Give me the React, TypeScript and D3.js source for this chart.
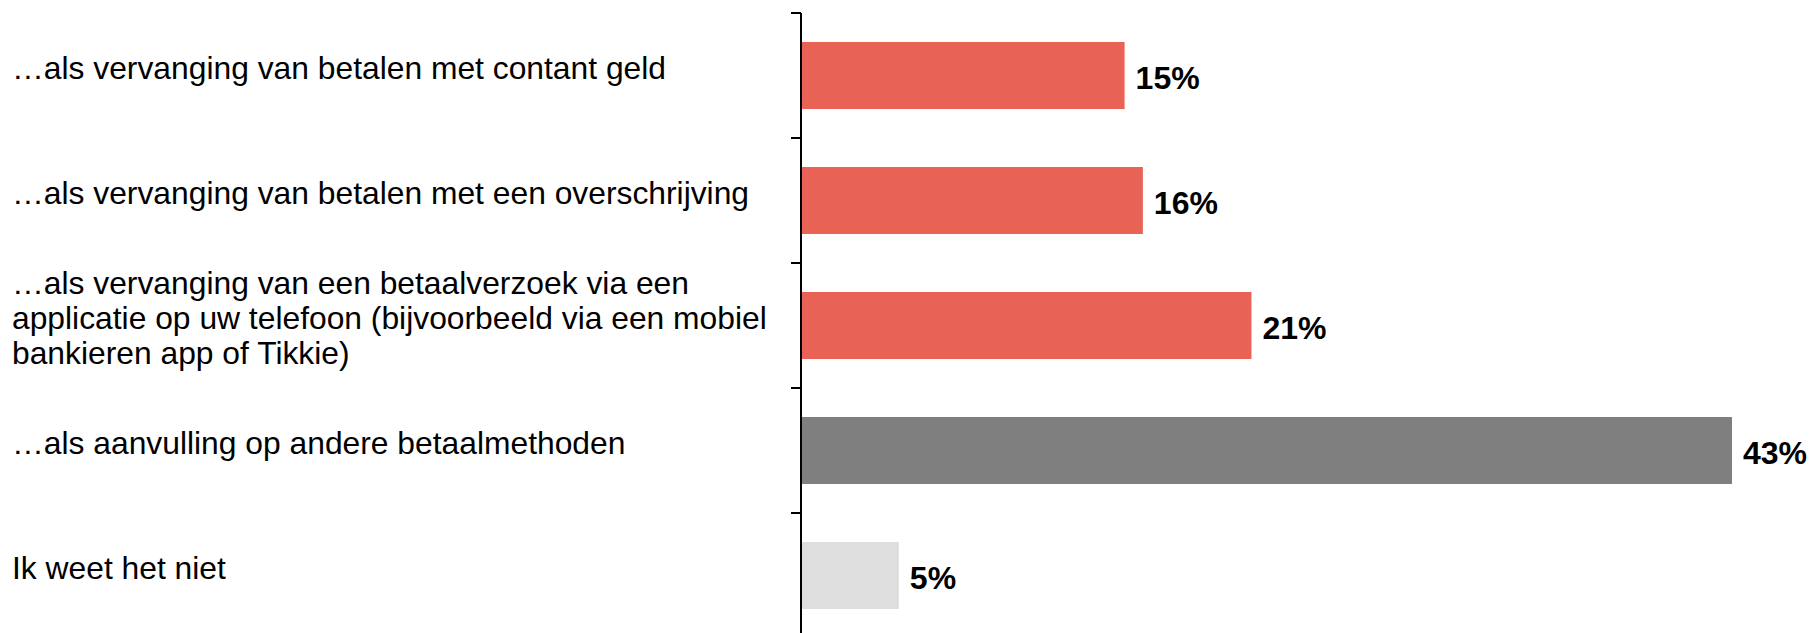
import React from "react";
import * as d3 from "d3";

const categories: string[][] = [
  ["…als vervanging van betalen met contant geld"],
  ["…als vervanging van betalen met een overschrijving"],
  [
    "…als vervanging van een betaalverzoek via een",
    "applicatie op uw telefoon (bijvoorbeeld via een mobiel",
    "bankieren app of Tikkie)",
  ],
  ["…als aanvulling op andere betaalmethoden"],
  ["Ik weet het niet"],
];
const values: number[] = [15.05, 15.9, 20.95, 43.3, 4.55];
const colors: string[] = ["#E96256", "#E96256", "#E96256", "#7F7F7F", "#DEDEDE"];

const W = 1811;
const H = 633;
const FONT = "Arial, 'Liberation Sans', Helvetica, sans-serif";

export default function App() {
  const ids = categories.map((_, i) => String(i));
  const y = d3
    .scaleBand<string>()
    .domain(ids)
    .range([13, 638])
    .paddingInner(0.464)
    .paddingOuter(0.232);
  const x = d3.scaleLinear().domain([0, 43.3]).range([801, 1732]);
  const axisX = 801;
  const tickPositions = ids.map((id) => (y(id) as number) - (y.step() * y.paddingOuter()));
  const catFont = 31.8;
  const lineH = 35;

  return (
    <svg
      width={W}
      height={H}
      style={{ position: "absolute", left: 0, top: 0, background: "#fff" }}
      fontFamily={FONT}
    >
      <rect x={0} y={0} width={W} height={H} fill="#fff" />
      {values.map((v, i) => {
        const by = y(ids[i]) as number;
        return (
          <rect
            key={"b" + i}
            x={x(0)}
            y={by}
            width={x(v) - x(0)}
            height={y.bandwidth()}
            fill={colors[i]}
          />
        );
      })}
      {values.map((v, i) => {
        const c = (y(ids[i]) as number) + y.bandwidth() / 2;
        return (
          <text
            key={"v" + i}
            x={x(v) + 11}
            y={c + 13.5}
            fontSize={32}
            fontWeight="bold"
            fill="#000"
          >
            {Math.round(v) + "%"}
          </text>
        );
      })}
      {categories.map((lines, i) => {
        const c = (y(ids[i]) as number) + y.bandwidth() / 2;
        const n = lines.length;
        return (
          <text key={"c" + i} x={12} fontSize={catFont} fill="#000">
            {lines.map((ln, j) => (
              <tspan key={j} x={12} y={c + 3.5 + (j - (n - 1) / 2) * lineH}>
                {ln}
              </tspan>
            ))}
          </text>
        );
      })}
      <line x1={axisX} x2={axisX} y1={13} y2={H} stroke="#000" strokeWidth={2} />
      {tickPositions.map((t, i) => (
        <line key={"t" + i} x1={axisX - 10} x2={axisX} y1={t} y2={t} stroke="#000" strokeWidth={2} />
      ))}
    </svg>
  );
}
